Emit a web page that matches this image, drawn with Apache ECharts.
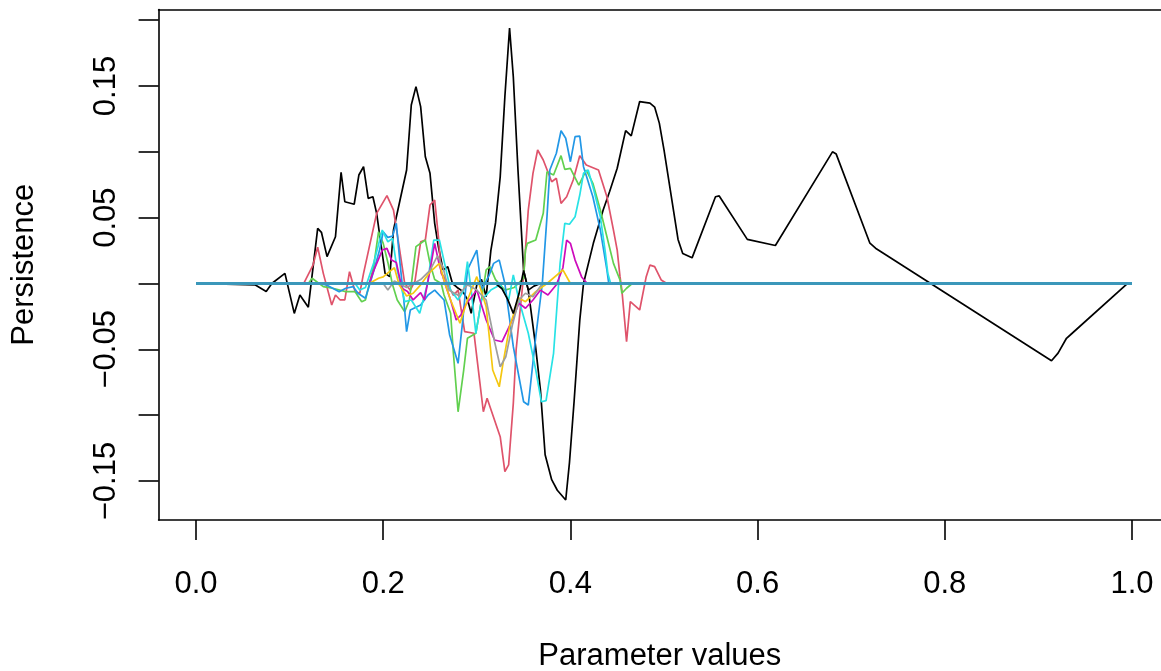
<!DOCTYPE html>
<html>
<head>
<meta charset="utf-8">
<script src="https://cdn.jsdelivr.net/npm/echarts@6/dist/echarts.min.js"></script>
<style>
  html, body { margin: 0; padding: 0; background: #ffffff; }
  #chart { width: 1161px; height: 671px; }
</style>
</head>
<body>
<div id="chart"></div>
<script>
// Parameter grid positions and persistence values for each curve
const blackX = [0, 0.063, 0.075, 0.081, 0.095, 0.105, 0.111, 0.120, 0.130, 0.134, 0.140, 0.149, 0.155, 0.159, 0.169, 0.174, 0.179, 0.184, 0.189, 0.193, 0.198, 0.202, 0.207, 0.211, 0.218, 0.225, 0.230, 0.235, 0.240, 0.245, 0.250, 0.255, 0.259, 0.264, 0.269, 0.274, 0.279, 0.285, 0.290, 0.294, 0.300, 0.305, 0.310, 0.315, 0.320, 0.325, 0.330, 0.335, 0.339, 0.344, 0.350, 0.355, 0.362, 0.368, 0.373, 0.380, 0.386, 0.395, 0.399, 0.404, 0.410, 0.414, 0.4245, 0.435, 0.442, 0.450, 0.459, 0.465, 0.474, 0.485, 0.490, 0.495, 0.500, 0.515, 0.520, 0.530, 0.555, 0.559, 0.589, 0.619, 0.680, 0.684, 0.720, 0.726, 0.914, 0.921, 0.930, 0.934, 0.995, 1];
const blackY = [0, -0.001, -0.006, 0.000, 0.0077, -0.0227, -0.0088, -0.018, 0.0419, 0.0389, 0.0204, 0.0355, 0.0845, 0.0621, 0.0602, 0.0824, 0.0887, 0.0647, 0.0659, 0.0533, 0.0279, 0.0077, 0.0052, 0.0406, 0.0634, 0.0862, 0.1356, 0.1495, 0.1343, 0.0963, 0.0837, 0.0457, 0.0279, 0.0103, 0.0128, 0.000, -0.003, -0.006, -0.012, -0.0227, -0.001, 0.003, -0.010, 0.025, 0.046, 0.081, 0.142, 0.194, 0.157, 0.086, 0.010, -0.005, -0.043, -0.081, -0.130, -0.149, -0.157, -0.1644, -0.136, -0.089, -0.028, 0.000, 0.0305, 0.0558, 0.070, 0.0875, 0.1161, 0.1121, 0.1382, 0.1370, 0.1340, 0.1218, 0.1015, 0.0335, 0.0228, 0.0195, 0.0659, 0.0665, 0.0335, 0.0289, 0.1000, 0.0983, 0.0306, 0.0268, -0.0587, -0.0529, -0.0416, -0.0391, 0.000, 0];

const redX = [0, 0.115, 0.125, 0.130, 0.136, 0.145, 0.149, 0.154, 0.159, 0.164, 0.170, 0.175, 0.179, 0.193, 0.204, 0.211, 0.216, 0.223, 0.229, 0.234, 0.240, 0.245, 0.250, 0.255, 0.259, 0.262, 0.265, 0.275, 0.280, 0.287, 0.297, 0.307, 0.311, 0.325, 0.330, 0.334, 0.339, 0.342, 0.350, 0.355, 0.360, 0.365, 0.371, 0.380, 0.385, 0.390, 0.396, 0.403, 0.410, 0.417, 0.430, 0.439, 0.446, 0.450, 0.453, 0.455, 0.460, 0.464, 0.474, 0.481, 0.485, 0.490, 0.497, 0.503, 1];
const redY = [0, 0, 0.014, 0.0275, 0.0077, -0.0163, -0.0087, -0.0125, -0.0125, 0.009, -0.0062, -0.0074, 0.0077, 0.0533, 0.0667, 0.0558, 0.033, 0.000, -0.005, 0.002, 0.0317, 0.033, 0.0596, 0.0634, 0.0355, 0.0077, 0.005, -0.009, -0.005, -0.0366, -0.0378, -0.0974, -0.0872, -0.1163, -0.1429, -0.1378, -0.091, -0.0505, 0.006, 0.0558, 0.0837, 0.1014, 0.0938, 0.0773, 0.0799, 0.0609, 0.0659, 0.0786, 0.0971, 0.090, 0.0862, 0.0659, 0.0406, 0.0254, 0.0052, -0.005, -0.0442, -0.0138, -0.0201, 0.0052, 0.014, 0.0128, 0.0027, 0, 0];

const greenX = [0, 0.12, 0.124, 0.136, 0.146, 0.160, 0.170, 0.177, 0.181, 0.190, 0.195, 0.200, 0.205, 0.210, 0.215, 0.223, 0.228, 0.235, 0.245, 0.250, 0.255, 0.262, 0.265, 0.272, 0.275, 0.280, 0.286, 0.290, 0.299, 0.305, 0.310, 0.314, 0.320, 0.330, 0.340, 0.350, 0.352, 0.354, 0.363, 0.371, 0.375, 0.382, 0.390, 0.394, 0.400, 0.409, 0.417, 0.424, 0.432, 0.439, 0.446, 0.453, 0.455, 0.460, 0.466, 1];
const greenY = [0, 0, 0.004, -0.0024, -0.0036, -0.0062, -0.0062, -0.0138, -0.0125, 0.014, 0.0393, 0.0305, 0.016, -0.001, -0.0125, -0.0214, -0.0125, 0.028, 0.033, 0.0153, 0.003, 0, -0.0087, -0.0226, -0.053, -0.0974, -0.0657, -0.0416, -0.0378, -0.0125, 0.0103, 0.0128, 0.003, -0.005, -0.003, 0.004, 0.0254, 0.0305, 0.033, 0.0533, 0.0849, 0.0824, 0.0971, 0.0867, 0.0875, 0.0748, 0.0862, 0.0761, 0.0558, 0.0355, 0.0153, 0.0027, -0.0074, -0.0036, 0, 0];

const blueX = [0, 0.13, 0.139, 0.153, 0.160, 0.168, 0.173, 0.181, 0.188, 0.196, 0.200, 0.205, 0.210, 0.214, 0.218, 0.222, 0.225, 0.229, 0.240, 0.248, 0.255, 0.265, 0.271, 0.280, 0.285, 0.290, 0.300, 0.305, 0.313, 0.318, 0.324, 0.330, 0.339, 0.350, 0.355, 0.363, 0.370, 0.375, 0.378, 0.385, 0.390, 0.395, 0.400, 0.405, 0.410, 0.414, 0.424, 0.432, 0.439, 0.441, 1];
const blueY = [0, 0, -0.001, -0.0062, -0.0036, -0.0024, -0.0074, -0.0112, 0.005, 0.025, 0.0393, 0.035, 0.036, 0.0457, 0.0153, -0.0125, -0.0366, -0.0201, -0.0163, -0.0087, -0.005, -0.0125, -0.0391, -0.0606, -0.028, 0.0103, 0.0254, -0.005, 0.006, 0.0153, 0.0178, 0, -0.048, -0.0898, -0.0923, -0.0404, 0.000, 0.051, 0.0862, 0.0989, 0.116, 0.1103, 0.0925, 0.1115, 0.112, 0.0887, 0.0659, 0.0406, 0.0103, 0, 0];

const cyanX = [0, 0.17, 0.175, 0.181, 0.190, 0.199, 0.205, 0.210, 0.215, 0.223, 0.230, 0.239, 0.247, 0.254, 0.260, 0.266, 0.272, 0.280, 0.286, 0.290, 0.294, 0.299, 0.305, 0.315, 0.325, 0.334, 0.339, 0.345, 0.355, 0.363, 0.369, 0.374, 0.382, 0.389, 0.394, 0.399, 0.405, 0.410, 0.414, 0.419, 0.425, 0.432, 0.437, 0.440, 0.443, 1];
const cyanY = [0, 0, -0.005, -0.003, 0.016, 0.0406, 0.0317, 0.0343, 0.010, -0.0138, -0.0125, -0.0226, -0.001, 0.033, 0.033, 0.014, -0.005, -0.0125, -0.005, 0.0166, -0.005, -0.0378, -0.0125, -0.005, -0.001, -0.0125, 0.0065, -0.0125, -0.0378, -0.0657, -0.0898, -0.089, -0.053, 0.0153, 0.0457, 0.045, 0.0507, 0.0672, 0.0837, 0.0862, 0.071, 0.0507, 0.0254, 0.0077, 0, 0];

const magentaX = [0, 0.185, 0.190, 0.199, 0.204, 0.209, 0.214, 0.220, 0.226, 0.232, 0.240, 0.244, 0.250, 0.255, 0.260, 0.266, 0.272, 0.278, 0.283, 0.288, 0.300, 0.310, 0.319, 0.327, 0.338, 0.345, 0.352, 0.360, 0.368, 0.376, 0.385, 0.392, 0.396, 0.400, 0.405, 0.412, 0.418, 1];
const magentaY = [0, 0, 0.010, 0.0254, 0.0267, 0.0178, 0.016, -0.0036, -0.006, -0.0125, -0.007, -0.0125, 0.010, 0.0305, 0.014, 0, -0.0125, -0.0277, -0.024, -0.0163, -0.005, -0.0277, -0.0429, -0.0442, -0.0277, -0.015, -0.0188, -0.0125, -0.005, -0.0087, -0.001, 0.012, 0.033, 0.0305, 0.0178, 0.005, 0, 0];

const yellowX = [0, 0.185, 0.195, 0.200, 0.206, 0.212, 0.217, 0.225, 0.232, 0.240, 0.250, 0.260, 0.266, 0.272, 0.282, 0.290, 0.300, 0.310, 0.317, 0.324, 0.328, 0.335, 0.345, 0.352, 0.363, 0.375, 0.392, 0.400, 1];
const yellowY = [0, 0, 0.004, 0.005, 0.0087, 0.012, -0.001, -0.0095, -0.0074, -0.001, 0.0087, 0.0153, 0, -0.0125, -0.0302, -0.0125, 0.0052, -0.0176, -0.0657, -0.0784, -0.0606, -0.0328, -0.011, -0.0138, -0.0062, 0, 0.0103, 0, 0];

const grayX = [0, 0.200, 0.205, 0.212, 0.225, 0.240, 0.250, 0.258, 0.264, 0.270, 0.280, 0.290, 0.300, 0.310, 0.319, 0.325, 0.331, 0.338, 0.345, 0.352, 0.360, 0.370, 1];
const grayY = [0, 0, -0.005, 0.002, -0.003, 0.003, 0.010, 0.021, 0.012, -0.005, -0.009, -0.001, -0.005, -0.0125, -0.0442, -0.0632, -0.0556, -0.0315, -0.0125, -0.0074, -0.010, 0, 0];

// Ninth curve (palette wraps back to black): small wiggles near zero
const black2X = [0, 0.320, 0.327, 0.333, 0.339, 0.345, 0.350, 0.355, 0.361, 0.368, 1];
const black2Y = [0, 0, -0.004, -0.012, -0.0227, -0.008, 0.010, -0.005, -0.002, 0, 0];

// Remaining curves are identically zero over the whole parameter range
const flatX = [0, 1];
const flatY = [0, 0];

const xTicks = [0, 0.2, 0.4, 0.6, 0.8, 1.0];
const yTicks = [-0.15, -0.10, -0.05, 0, 0.05, 0.10, 0.15, 0.20];
const yTickLabels = [-0.15, -0.05, 0.05, 0.15];

const curves = [
  { x: blackX, y: blackY, color: '#000000' },
  { x: redX, y: redY, color: '#DF536B' },
  { x: greenX, y: greenY, color: '#61D04F' },
  { x: blueX, y: blueY, color: '#2297E6' },
  { x: cyanX, y: cyanY, color: '#28E2E5' },
  { x: magentaX, y: magentaY, color: '#CD0BBC' },
  { x: yellowX, y: yellowY, color: '#F5C710' },
  { x: grayX, y: grayY, color: '#9E9E9E' },
  { x: black2X, y: black2Y, color: '#000000' },
  { x: flatX, y: flatY, color: '#3B97BA', width: 3 }
];

const FONT = '"Liberation Sans", Arial, Helvetica, sans-serif';
const FS = 31;
const fmt = v => (v < 0 ? '\u2212' : '') + Math.abs(v).toFixed(2);

// The plotting region runs past the right edge of the canvas, so its right
// side is left open and the x range is cut at the canvas edge.
const X_MIN = -0.03996;
const X_MAX = 1.03098;

const chart = echarts.init(document.getElementById('chart'), null, { renderer: 'canvas' });
chart.setOption({
  animation: false,
  backgroundColor: '#ffffff',
  grid: {
    left: 158.6, right: 0, top: 9.5, bottom: 151,
    outerBoundsMode: 'none',
    containLabel: false,
    show: false
  },
  xAxis: [{
    type: 'value', min: X_MIN, max: X_MAX,
    name: 'Parameter values', nameLocation: 'middle', nameGap: 121,
    nameTextStyle: { fontFamily: FONT, fontSize: FS, color: '#000000' },
    axisLine: { show: true, onZero: false, lineStyle: { color: '#000000', width: 1.6 } },
    axisTick: { show: true, inside: false, length: 20, customValues: xTicks, lineStyle: { color: '#000000', width: 1.6 } },
    axisLabel: { show: true, customValues: xTicks, margin: 49, fontFamily: FONT, fontSize: FS, color: '#000000',
      formatter: v => v.toFixed(1) },
    splitLine: { show: false }
  }, {
    // top edge of the plot frame
    type: 'value', position: 'top', min: X_MIN, max: X_MAX,
    axisLine: { show: true, onZero: false, lineStyle: { color: '#000000', width: 1.6 } },
    axisTick: { show: false }, axisLabel: { show: false }, splitLine: { show: false }
  }],
  yAxis: {
    type: 'value', min: -0.1796, max: 0.2081,
    name: 'Persistence', nameLocation: 'middle', nameGap: 119, nameRotate: 90,
    nameTextStyle: { fontFamily: FONT, fontSize: FS, color: '#000000' },
    axisLine: { show: true, onZero: false, lineStyle: { color: '#000000', width: 1.6 } },
    axisTick: { show: true, inside: false, length: 20, customValues: yTicks, lineStyle: { color: '#000000', width: 1.6 } },
    axisLabel: { show: true, customValues: yTickLabels, rotate: 90, margin: 37, fontFamily: FONT, fontSize: FS, color: '#000000',
      formatter: v => fmt(v) },
    splitLine: { show: false }
  },
  series: curves.map(c => ({
    type: 'line',
    xAxisIndex: 0,
    data: c.x.map((xv, i) => [xv, c.y[i]]),
    showSymbol: false,
    symbol: 'none',
    clip: true,
    lineStyle: { color: c.color, width: c.width || 1.7 },
    itemStyle: { color: c.color },
    emphasis: { disabled: true }
  }))
});
</script>
</body>
</html>
